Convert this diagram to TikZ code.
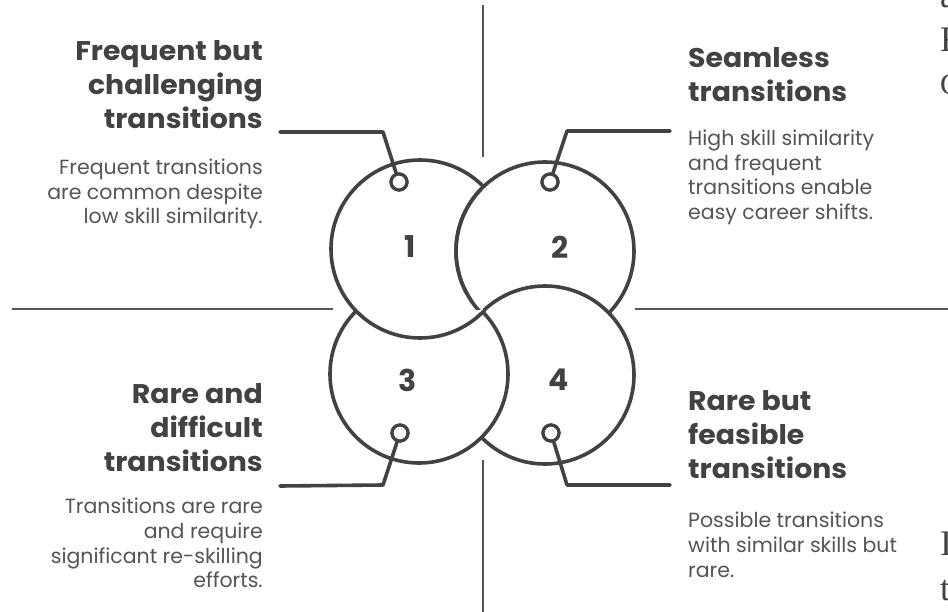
\documentclass[tikz,border=0pt]{standalone}
\usepackage{fontspec}
\setmainfont{Poppins}
\newfontfamily\edgeserif{Liberation Serif}
\definecolor{ink}{HTML}{424242}
\definecolor{soft}{HTML}{555555}
\tikzset{
  bigring/.style={circle, draw=ink, line width=3.6pt, fill=white, minimum size=178pt, inner sep=0pt},
  ringpath/.style={draw=ink, line width=3.6pt, fill=white},
  ringline/.style={draw=ink, line width=3.6pt},
  pin/.style={circle, draw=ink, line width=3.2pt, fill=white, minimum size=16pt, inner sep=0pt},
  leader/.style={draw=ink, line width=3.6pt, line cap=round, line join=round},
  axis/.style={draw=soft, line width=2.4pt},
  num/.style={font=\fontsize{30}{30}\selectfont\bfseries, text=ink, inner sep=0pt},
  headR/.style={font=\fontsize{27}{34}\selectfont\bfseries\addfontfeature{FakeStretch=1.05}, text=ink, align=right, anchor=north east, inner sep=0pt},
  headL/.style={font=\fontsize{27}{34}\selectfont\bfseries\addfontfeature{FakeStretch=1.05}, text=ink, align=left, anchor=north west, inner sep=0pt},
  bodyR/.style={font=\fontsize{20.5}{24.6}\selectfont, text=soft, align=right, anchor=north east, inner sep=0pt},
  bodyL/.style={font=\fontsize{20.5}{24.6}\selectfont, text=soft, align=left, anchor=north west, inner sep=0pt},
  edgeword/.style={font=\edgeserif\fontsize{36}{36}\selectfont, text=ink, anchor=base west, inner sep=0pt}
}
\begin{document}
\begin{tikzpicture}[x=1pt,y=-1pt]
\useasboundingbox[fill=white] (0,0) rectangle (948,612);

% quadrant axes
\coordinate (vt1) at (483,5);   \coordinate (vt2) at (483,157);
\coordinate (vb1) at (483,460); \coordinate (vb2) at (483,612);
\coordinate (hl1) at (12,309);  \coordinate (hl2) at (333,309);
\coordinate (hr1) at (635,309); \coordinate (hr2) at (948,309);
\draw[axis] (vt1) -- (vt2);
\draw[axis] (vb1) -- (vb2);
\draw[axis] (hl1) -- (hl2);
\draw[axis] (hr1) -- (hr2);

% interlocking rings: 1 under 2, 2 under 4, 4 under 3, 3 under 1
\node[bigring] (c1) at (420,249) {};
\node[bigring] (c2) at (545,251) {};
\node[bigring] (c4) at (545,375) {};
\node[bigring] (c3) at (419,374) {};
% ring 1 passes over ring 3
\begin{scope}
  \clip (c3.center) circle (91.5pt);
  \path[ringpath] (c1.center) circle (89pt);
\end{scope}
% ring 2 stays over ring 1 next to the middle
\begin{scope}
  \clip (430,150) rectangle (482,310);
  \path[ringline] (c2.center) circle (89pt);
\end{scope}

% ring numbers
\node[num] (n1) at (410,247) {1};
\node[num] (n2) at (560,247) {2};
\node[num] (n3) at (408,380) {3};
\node[num] (n4) at (559,380) {4};

% pins and their leaders
\node[pin] (p1) at (399,182) {};
\node[pin] (p2) at (550,182) {};
\node[pin] (p3) at (400,433) {};
\node[pin] (p4) at (551,433) {};
\coordinate (k1) at (383,132); \coordinate (e1) at (280,132);
\coordinate (k2) at (567,131); \coordinate (e2) at (670,131);
\coordinate (k3) at (383,485); \coordinate (e3) at (280,486);
\coordinate (k4) at (567,485); \coordinate (e4) at (670,485);
\draw[leader] (p1) -- (k1) -- (e1);
\draw[leader] (p2) -- (k2) -- (e2);
\draw[leader] (p3) -- (k3) -- (e3);
\draw[leader] (p4) -- (k4) -- (e4);
\node[pin] at (p1) {};
\node[pin] at (p2) {};
\node[pin] at (p3) {};
\node[pin] at (p4) {};

% quadrant texts
\node[headR] (t1) at (263,40) {Frequent but\\challenging\\transitions};
\node[bodyR] (b1) at (263,159) {Frequent transitions\\are common despite\\low skill similarity.};
\node[headL] (t2) at (688,47) {Seamless\\transitions};
\node[bodyL] (b2) at (688,130) {High skill similarity\\and frequent\\transitions enable\\easy career shifts.};
\node[headR] (t3) at (263,383) {Rare and\\difficult\\transitions};
\node[bodyR] (b3) at (263,498) {Transitions are rare\\and require\\significant re-skilling\\efforts.};
\node[headL] (t4) at (688,390) {Rare but\\feasible\\transitions};
\node[bodyL] (b4) at (688,512) {Possible transitions\\with similar skills but\\rare.};

% letters of the neighbouring column, cut by the page edge
\node[edgeword] (w1) at (940,8) {a};
\node[edgeword] (w2) at (940,52) {F};
\node[edgeword, font=\edgeserif\fontsize{30}{30}\selectfont] (w3) at (940,95) {C};
\node[edgeword] (w4) at (940,555) {I};
\node[edgeword] (w5) at (940,600) {t};
\end{tikzpicture}
\end{document}
